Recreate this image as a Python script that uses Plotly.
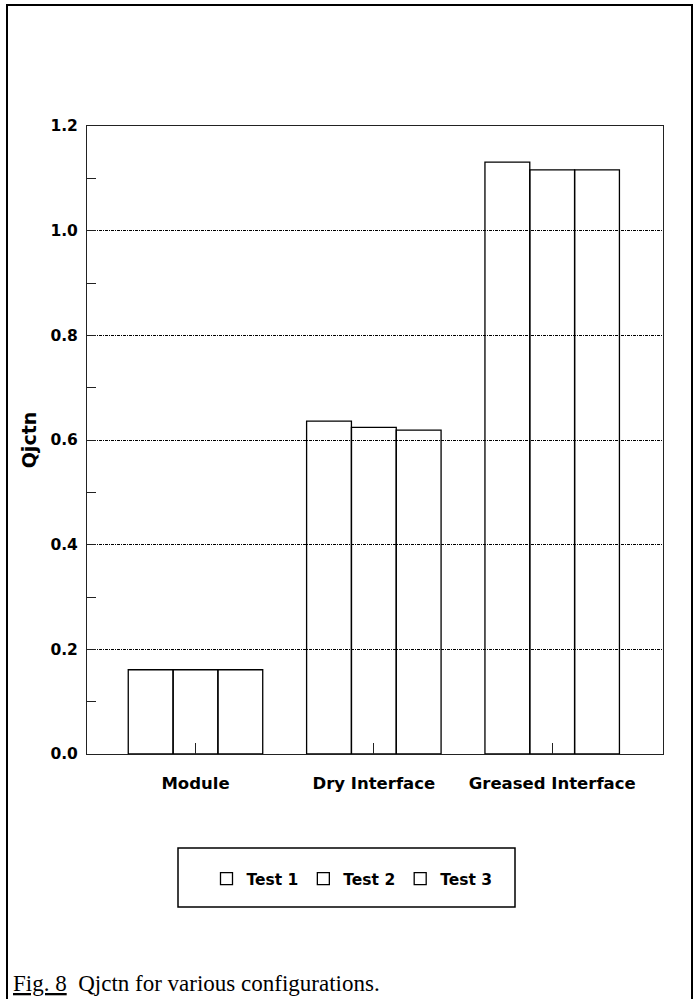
import plotly.graph_objects as go

# Configurations compared on the category axis
categories = ["Module", "Dry Interface", "Greased Interface"]

# Qjctn per configuration, one list per test run
series_names = ["Test 1", "Test 2", "Test 3"]
test1 = [0.161, 0.636, 1.131]
test2 = [0.161, 0.624, 1.116]
test3 = [0.161, 0.619, 1.116]
series = [test1, test2, test3]

y_tick_values = [0.0, 0.2, 0.4, 0.6, 0.8, 1.0, 1.2]
y_tick_labels = ["0.0", "0.2", "0.4", "0.6", "0.8", "1.0", "1.2"]

SANS = "DejaVu Sans, Arial, sans-serif"
SERIF = "Liberation Serif, Times New Roman, serif"

fig = go.Figure()
for name, vals in zip(series_names, series):
    fig.add_trace(go.Bar(
        x=categories,
        y=vals,
        name=name,
        marker=dict(color="rgba(0,0,0,0)", line=dict(color="black", width=1.3)),
    ))

# plot area spans x 87..663 px and y 126..754 px of the 700x999 page
L, R, T, B = 87, 663, 126, 754
W, H = R - L, B - T


def px_x(x):
    return (x - L) / W


def px_y(y):
    return (B - y) / H


fig.update_layout(
    width=700,
    height=999,
    margin=dict(l=L, r=700 - R, t=T, b=999 - B),
    paper_bgcolor="white",
    plot_bgcolor="white",
    barmode="group",
    bargap=0.246,
    bargroupgap=0,
    showlegend=True,
    legend=dict(
        orientation="h",
        x=px_x(352),
        xanchor="center",
        y=px_y(879),
        yanchor="middle",
        bgcolor="rgba(0,0,0,0)",
        borderwidth=0,
        font=dict(family=SANS, size=15.5, color="black", weight="bold"),
        itemwidth=30,
    ),
    xaxis=dict(
        type="category",
        range=[-0.6083, 2.6213],
        showline=True,
        linecolor="#222",
        linewidth=1,
        mirror=True,
        ticks="inside",
        ticklen=11,
        tickcolor="#222",
        showgrid=False,
        tickfont=dict(family=SANS, size=16.5, color="black", weight="bold"),
        ticklabelstandoff=14,
    ),
    yaxis=dict(
        range=[0, 1.2],
        tickmode="array",
        tickvals=y_tick_values,
        ticktext=y_tick_labels,
        showline=True,
        linecolor="#222",
        linewidth=1,
        mirror=True,
        ticks="inside",
        ticklen=9,
        tickcolor="#222",
        showgrid=True,
        gridcolor="black",
        gridwidth=1,
        griddash="3px,1px,1px,1px",
        zeroline=False,
        minor=dict(dtick=0.1, ticks="inside", ticklen=9, tickcolor="#222", showgrid=False),
        tickfont=dict(family=SANS, size=15.5, color="black", weight="bold"),
        ticklabelstandoff=5,
        title=dict(
            text="Qjctn",
            font=dict(family=SANS, size=19, color="black", weight="bold"),
            standoff=8,
        ),
    ),
    shapes=[
        # page frame (open at the bottom)
        dict(type="rect", xref="paper", yref="paper",
             x0=px_x(7), x1=px_x(692), y0=px_y(1010), y1=px_y(5),
             line=dict(color="black", width=2), fillcolor="rgba(0,0,0,0)", layer="below"),
        # legend box
        dict(type="rect", xref="paper", yref="paper",
             x0=px_x(178), x1=px_x(515), y0=px_y(907), y1=px_y(848),
             line=dict(color="black", width=1.5), fillcolor="rgba(0,0,0,0)"),
    ],
    annotations=[
        dict(
            text="<u>Fig. 8</u>&nbsp;&nbsp;Qjctn for various configurations.",
            xref="paper", yref="paper",
            x=px_x(11), y=px_y(983),
            xanchor="left", yanchor="middle",
            showarrow=False,
            font=dict(family=SERIF, size=23, color="black"),
        )
    ],
)

fig.write_html("out.html")
